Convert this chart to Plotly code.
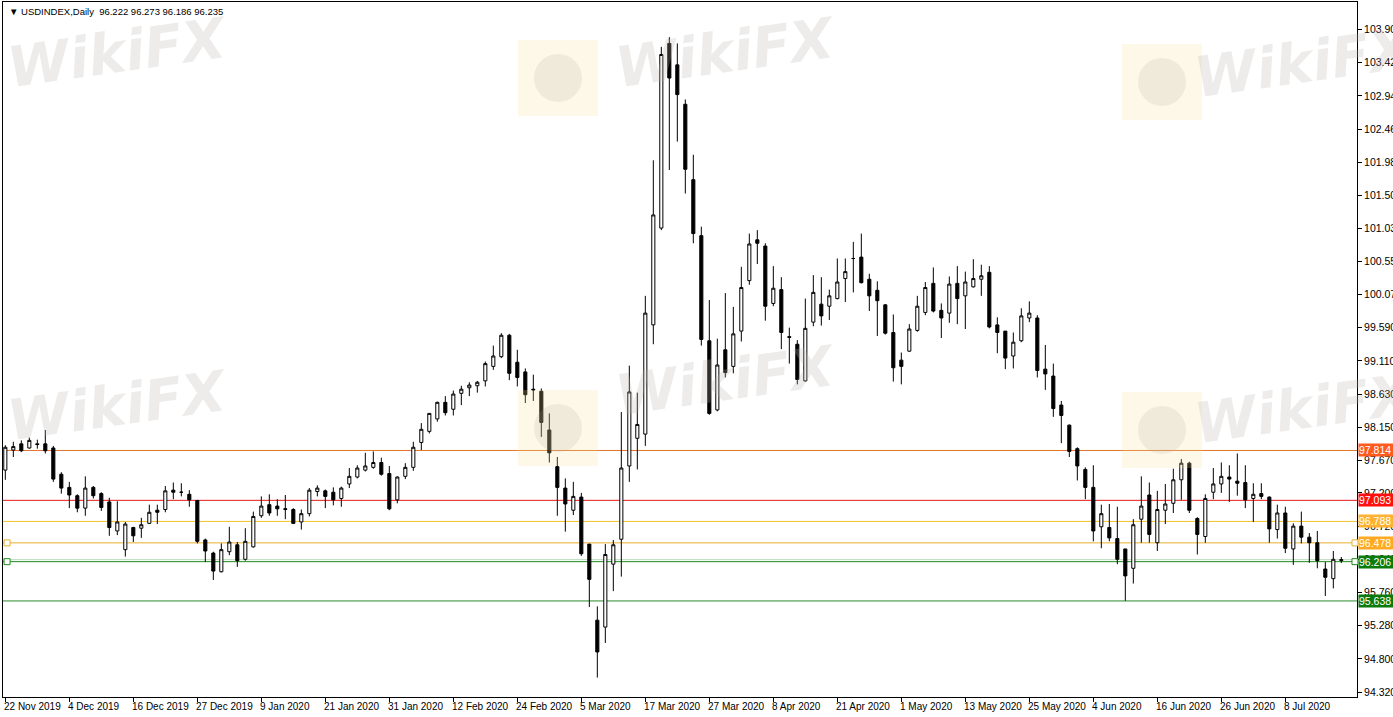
import pandas as pd
import plotly.graph_objects as go

# ---------------- data ----------------
holidays = ["2019-12-25", "2020-01-01", "2020-04-10"]
days = [d for d in pd.bdate_range("2019-11-22", "2020-07-17") if d.strftime("%Y-%m-%d") not in holidays]
dates = [d.strftime("%Y-%m-%d") for d in days]

opens = [97.53, 97.82, 97.91, 97.85, 97.91, 97.91, 97.85, 97.47, 97.28, 97.16,
         96.98, 97.28, 97.19, 97.07, 96.65, 96.38, 96.70, 96.69, 96.76, 96.95,
         96.96, 97.24, 97.21, 97.18, 97.09, 96.52, 96.33, 96.06, 96.35, 96.45,
         96.24, 96.42, 96.87, 97.03, 97.01, 96.96, 96.96, 96.78, 96.90, 97.22,
         97.23, 97.21, 97.12, 97.33, 97.43, 97.53, 97.57, 97.64, 97.48, 97.10,
         97.44, 97.57, 97.93, 98.09, 98.27, 98.51, 98.41, 98.64, 98.72, 98.75,
         98.82, 99.03, 99.17, 99.48, 99.09, 98.95, 98.70, 98.67, 98.11, 97.58,
         97.27, 96.95, 97.14, 96.46, 95.36, 95.26, 96.17, 96.53, 97.59, 97.99,
         98.05, 99.63, 101.03, 103.70, 103.39, 102.82, 101.73, 100.92, 99.40, 98.40,
         99.27, 99.03, 99.54, 100.27, 100.86, 100.77, 99.94, 100.14, 99.46, 99.35,
         98.82, 99.67, 99.93, 99.90, 100.01, 100.30, 100.59, 100.61, 100.29, 100.13,
         99.92, 99.52, 99.12, 99.25, 99.55, 99.81, 100.23, 99.84, 99.80, 100.23,
         100.05, 100.18, 100.29, 100.39, 99.63, 99.54, 99.18, 99.40, 99.73, 99.73,
         98.99, 98.89, 98.47, 98.18, 97.84, 97.54, 97.28, 96.71, 96.70, 96.54,
         96.39, 96.11, 96.82, 97.17, 96.48, 96.95, 97.05, 97.39, 97.63, 96.83,
         96.57, 97.21, 97.33, 97.43, 97.37, 97.35, 97.12, 97.19, 97.14, 96.67,
         96.91, 96.39, 96.72, 96.56, 96.48, 96.10, 95.96, 96.222]
highs = [97.89, 97.94, 97.96, 98.00, 97.97, 98.11, 97.88, 97.50, 97.36, 97.18,
         97.44, 97.30, 97.21, 97.13, 97.08, 96.78, 96.71, 96.84, 97.03, 97.03,
         97.30, 97.35, 97.34, 97.24, 97.10, 96.54, 96.35, 96.47, 96.71, 96.49,
         96.69, 96.93, 97.15, 97.18, 97.11, 97.17, 96.98, 96.96, 97.27, 97.31,
         97.25, 97.28, 97.29, 97.56, 97.60, 97.78, 97.80, 97.71, 97.59, 97.44,
         97.63, 97.94, 98.21, 98.35, 98.52, 98.60, 98.68, 98.75, 98.80, 98.82,
         99.10, 99.33, 99.51, 99.50, 99.27, 99.00, 98.91, 98.71, 98.35, 97.72,
         97.41, 97.36, 97.20, 96.46, 95.56, 96.46, 96.52, 98.37, 99.04, 98.65,
         100.05, 102.01, 103.65, 103.79, 103.70, 102.89, 102.09, 101.05, 99.99, 99.43,
         100.09, 99.89, 100.47, 100.95, 101.00, 100.81, 100.48, 100.32, 99.59, 99.41,
         100.01, 100.35, 100.32, 100.14, 100.59, 100.59, 100.83, 100.95, 100.37, 100.26,
         99.93, 99.78, 99.23, 99.64, 100.05, 100.25, 100.46, 99.94, 100.33, 100.48,
         100.40, 100.58, 100.50, 100.48, 99.74, 99.54, 99.52, 99.87, 99.97, 99.77,
         99.34, 99.07, 98.53, 98.19, 97.86, 97.57, 97.60, 97.03, 97.04, 97.00,
         96.39, 96.82, 97.44, 97.35, 97.23, 97.33, 97.55, 97.69, 97.65, 96.85,
         97.18, 97.56, 97.64, 97.60, 97.77, 97.60, 97.34, 97.34, 97.15, 97.03,
         97.00, 96.76, 96.93, 96.62, 96.65, 96.20, 96.36, 96.273]
lows = [97.39, 97.72, 97.79, 97.84, 97.84, 97.77, 97.36, 97.19, 96.98, 96.92,
        96.87, 97.12, 96.94, 96.58, 96.59, 96.28, 96.49, 96.55, 96.75, 96.75,
        96.92, 97.11, 97.15, 97.00, 96.47, 96.20, 95.94, 96.05, 96.30, 96.13,
        96.22, 96.41, 96.84, 96.87, 96.87, 96.82, 96.75, 96.67, 96.86, 97.15,
        96.98, 97.02, 97.00, 97.27, 97.41, 97.51, 97.55, 97.45, 96.95, 97.05,
        97.40, 97.52, 97.82, 98.06, 98.23, 98.32, 98.32, 98.47, 98.60, 98.65,
        98.74, 98.98, 99.15, 98.83, 98.74, 98.50, 98.53, 98.01, 97.64, 96.87,
        96.64, 96.88, 96.29, 95.55, 94.53, 95.03, 95.78, 95.99, 97.36, 97.54,
        97.88, 99.35, 101.00, 101.87, 102.28, 101.53, 100.81, 99.33, 98.33, 98.38,
        98.87, 98.93, 99.39, 100.21, 100.51, 99.69, 99.90, 99.28, 99.07, 98.77,
        98.81, 99.61, 99.62, 99.70, 100.00, 99.96, 100.10, 100.23, 99.83, 99.47,
        99.49, 98.81, 98.77, 99.24, 99.53, 99.77, 99.81, 99.44, 99.66, 99.64,
        99.57, 100.17, 100.05, 99.58, 99.22, 98.99, 99.00, 99.38, 99.67, 98.87,
        98.69, 98.30, 97.92, 97.72, 97.38, 97.11, 96.50, 96.40, 96.50, 96.17,
        95.64, 95.89, 96.48, 96.48, 96.36, 96.75, 96.91, 97.10, 96.91, 96.31,
        96.48, 97.11, 97.20, 97.07, 97.16, 96.98, 96.78, 97.11, 96.48, 96.54,
        96.33, 96.16, 96.47, 96.19, 96.11, 95.71, 95.82, 96.186]
closes = [97.86, 97.87, 97.81, 97.96, 97.90, 97.81, 97.40, 97.27, 97.17, 96.98,
          97.27, 97.16, 96.99, 96.70, 96.78, 96.75, 96.58, 96.74, 96.92, 96.92,
          97.23, 97.21, 97.21, 97.10, 96.50, 96.36, 96.07, 96.38, 96.49, 96.22,
          96.50, 96.86, 97.01, 96.91, 96.97, 96.97, 96.76, 96.90, 97.24, 97.27,
          97.15, 97.10, 97.27, 97.44, 97.56, 97.59, 97.64, 97.47, 96.97, 97.43,
          97.57, 97.86, 98.12, 98.35, 98.51, 98.36, 98.63, 98.70, 98.76, 98.80,
          99.07, 99.18, 99.48, 98.93, 98.87, 98.62, 98.69, 98.22, 97.78, 97.28,
          97.04, 97.15, 96.32, 95.95, 94.90, 96.31, 96.45, 97.56, 98.66, 98.19,
          99.80, 101.22, 103.54, 103.20, 102.96, 101.88, 100.95, 99.42, 98.35, 99.05,
          98.94, 99.50, 100.17, 100.80, 100.81, 99.90, 100.16, 99.52, 99.45, 98.84,
          99.58, 100.10, 99.76, 100.05, 100.25, 100.40, 100.59, 100.24, 100.05, 99.98,
          99.51, 99.01, 99.03, 99.57, 99.90, 100.17, 99.83, 99.73, 100.22, 100.01,
          100.25, 100.30, 100.34, 99.60, 99.52, 99.15, 99.38, 99.76, 99.80, 98.97,
          98.92, 98.42, 98.32, 97.80, 97.59, 97.28, 96.65, 96.90, 96.55, 96.24,
          96.00, 96.74, 97.01, 96.60, 96.96, 97.04, 97.39, 97.63, 96.95, 96.60,
          97.12, 97.33, 97.44, 97.40, 97.34, 97.10, 97.18, 97.15, 96.68, 96.91,
          96.40, 96.72, 96.56, 96.48, 96.22, 95.98, 96.24, 96.235]

level_values = [97.814, 97.093, 96.788, 96.478, 96.206, 95.638]
level_line_colors = ["#E2762A", "#E81818", "#EFC22A", "#E8B02E", "#1E8A1E", "#2A8A2A"]
level_label_colors = ["#FF5B1E", "#FF1010", "#FFB232", "#FFAA22", "#0C7A0C", "#0C7A0C"]
bid_line = 96.235

ytick_vals = [94.32, 94.80, 95.28, 95.76, 96.24, 96.72, 97.20, 97.67, 98.15, 98.63, 99.11,
              99.59, 100.07, 100.55, 101.03, 101.50, 101.98, 102.46, 102.94, 103.42, 103.90]
xlabel_idx = list(range(0, 161, 8))

title_text = "\u25BC USDINDEX,Daily  96.222 96.273 96.186 96.235"

# ---------------- figure ----------------
FONT = "Liberation Sans"
fig = go.Figure()
fig.add_trace(go.Candlestick(
    x=dates, open=opens, high=highs, low=lows, close=closes,
    increasing=dict(line=dict(color="black", width=1), fillcolor="white"),
    decreasing=dict(line=dict(color="black", width=1), fillcolor="black"),
    whiskerwidth=0, hoverinfo="skip", showlegend=False,
))

shapes = []
for v, c in zip(level_values, level_line_colors):
    shapes.append(dict(type="line", xref="paper", x0=0, x1=1, yref="y", y0=v, y1=v,
                       line=dict(color=c, width=1), layer="below"))
shapes.append(dict(type="line", xref="paper", x0=0, x1=1, yref="y", y0=bid_line, y1=bid_line,
                   line=dict(color="#B9D9B9", width=1), layer="below"))
# little square handles of the horizontal line objects
for v, c in [(96.478, "#E8B02E"), (96.206, "#1E8A1E")]:
    for xa in [0.003, 0.9985]:
        shapes.append(dict(type="rect", xref="paper", xsizemode="pixel", xanchor=xa, x0=-3, x1=3,
                           yref="y", ysizemode="pixel", yanchor=v, y0=-3, y1=3,
                           line=dict(color=c, width=1), fillcolor="white"))

# watermark logos (pale tiles)
for cx, cy in [(558, 78), (1162, 82), (558, 428), (1162, 430)]:
    x0 = (cx - 40 - 3) / 1354; x1 = (cx + 40 - 3) / 1354
    y0 = (697 - (cy + 38)) / 695; y1 = (697 - (cy - 38)) / 695
    shapes.append(dict(type="rect", xref="paper", yref="paper", x0=x0, x1=x1, y0=y0, y1=y1,
                       line=dict(width=0), fillcolor="rgba(252,222,150,0.22)", layer="above"))
    r = 24
    shapes.append(dict(type="circle", xref="paper", yref="paper",
                       x0=(cx - r - 3) / 1354, x1=(cx + r - 3) / 1354,
                       y0=(697 - (cy + r)) / 695, y1=(697 - (cy - r)) / 695,
                       line=dict(width=0), fillcolor="rgba(170,160,155,0.16)", layer="above"))

annotations = []
# watermark texts
for cx, cy in [(118, 52), (726, 52), (1305, 62), (118, 405), (726, 380), (1305, 408)]:
    annotations.append(dict(text="<b><i>WikiFX</i></b>", xref="paper", yref="paper",
                            x=(cx - 3) / 1354, y=(697 - cy) / 695, xanchor="center", yanchor="middle",
                            showarrow=False,
                            font=dict(family="DejaVu Sans", size=56, color="rgba(190,182,178,0.26)"),
                            textangle=-8))
# title
annotations.append(dict(text=title_text, xref="paper", yref="paper", x=0, y=1, xanchor="left",
                        yanchor="top", xshift=4, yshift=-2, showarrow=False,
                        font=dict(family=FONT, size=9.5, color="black")))
# x labels (left aligned at the bar)
for i in xlabel_idx:
    d = days[i]
    annotations.append(dict(text=f"{d.day} {d.strftime('%b %Y')}", xref="x", yref="paper",
                            x=i, y=0, xanchor="left", yanchor="top", yshift=-2, xshift=-3,
                            showarrow=False, font=dict(family=FONT, size=10, color="black")))
# level labels on the price axis
for v, c in zip(level_values, level_label_colors):
    annotations.append(dict(text=f"{v:.3f}", xref="paper", yref="y", x=1, y=v, xanchor="left",
                            yanchor="middle", xshift=1, showarrow=False, bgcolor=c,
                            width=36, align="left", borderpad=0,
                            font=dict(family=FONT, size=10.5, color="white")))

fig.update_layout(
    width=1393, height=717,
    margin=dict(l=3, r=36, t=2, b=20, autoexpand=False),
    paper_bgcolor="white", plot_bgcolor="white",
    boxgap=0.45,
    shapes=shapes, annotations=annotations,
    xaxis=dict(type="category", range=[-0.29, 168.96], rangeslider=dict(visible=False),
               automargin=False,
               showgrid=False, zeroline=False, showline=True, linecolor="black", linewidth=1,
               mirror=True, ticks="outside", ticklen=4, tickcolor="black",
               tickvals=[dates[i] for i in xlabel_idx], ticktext=["" for _ in xlabel_idx]),
    yaxis=dict(side="right", range=[94.249, 104.299], showgrid=False, zeroline=False,
               automargin=False,
               showline=True, linecolor="black", linewidth=1, mirror=True,
               ticks="outside", ticklen=4, tickcolor="black",
               tickvals=ytick_vals, ticktext=[f"{v:.3f}" for v in ytick_vals],
               tickfont=dict(family=FONT, size=10.5, color="black")),
    hovermode=False,
)

fig.write_html("out.html", config={"displayModeBar": False},
               post_script="document.body.style.margin='0';")
